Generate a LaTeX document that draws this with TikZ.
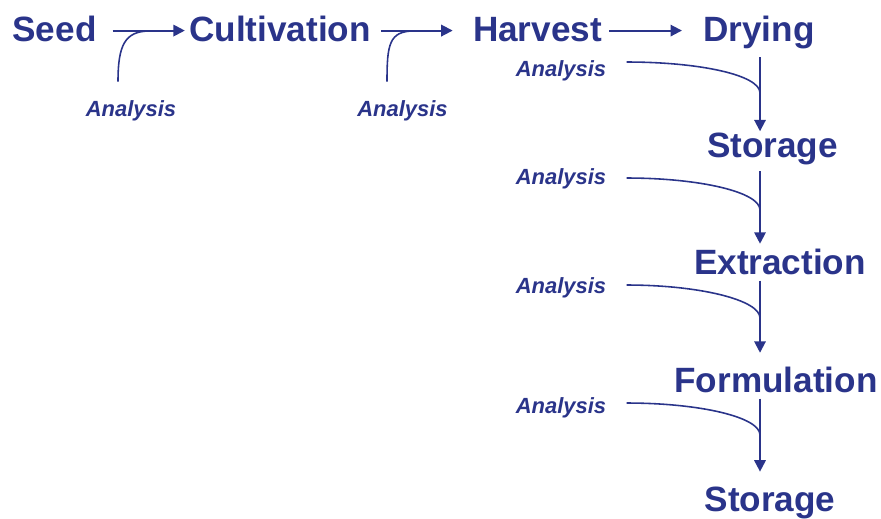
\documentclass[tikz,border=0pt]{standalone}
\usepackage{fontspec}
\setmainfont{Liberation Sans}
\usepackage{tikz}
\usepackage{xcolor}
\usetikzlibrary{positioning, arrows.meta, calc}
\definecolor{myNavy}{RGB}{42,52,138}

\begin{document}
\begin{tikzpicture}[
  x=0.02cm, y=-0.02cm,
  stage/.style={anchor=base, inner sep=0pt, text height=15pt, text depth=2pt,
                text=myNavy, font=\fontsize{20}{24}\selectfont\bfseries},
  check/.style={anchor=base, inner sep=0pt, text=myNavy,
                font=\fontsize{12.5}{15}\selectfont\bfseries\itshape},
  flow/.style={draw=myNavy, line width=1.1pt, -{Triangle[length=6.5pt, width=6.5pt]}},
  feed/.style={draw=myNavy, line width=0.9pt},
]
  \useasboundingbox (0,0) rectangle (881,519);

  % process stages
  \node[stage] (seed) at (54.5,42) {Seed};
  \node[stage] (cult) at (280,42) {Cultivation};
  \node[stage] (harv) at (537.5,42) {Harvest};
  \node[stage] (dry)  at (759,42) {Drying};
  \node[stage] (sto1) at (772.5,158) {Storage};
  \node[stage] (ext)  at (780,275) {Extraction};
  \node[stage] (form) at (776,393) {Formulation};
  \node[stage] (sto2) at (770,511) {Storage};

  % analysis steps
  \node[check] (anaA) at (131,117) {Analysis};
  \node[check] (anaB) at (402.5,117) {Analysis};
  \node[check] (ana1) at (561,77) {Analysis};
  \node[check] (ana2) at (561,185) {Analysis};
  \node[check] (ana3) at (561,294) {Analysis};
  \node[check] (ana4) at (561,414) {Analysis};

  % where the analysis lines join the main flow
  \coordinate (vline) at (760,0);
  \coordinate (k1) at (150,31);
  \coordinate (k2) at (414,31);
  \coordinate (j1) at (760,93);
  \coordinate (j2) at (760,210);
  \coordinate (j3) at (760,318);
  \coordinate (j4) at (760,435);

  % top row
  \draw[flow, shorten <=9pt, shorten >=2.3pt] (seed) -- (cult);
  \draw[flow, shorten <=5.7pt, shorten >=11.4pt] (cult) -- (harv);
  \draw[flow, shorten <=4pt, shorten >=12pt] (harv) -- (dry);

  % down the right column
  \draw[flow, shorten <=6.5pt] (dry.south -| vline) -- (sto1.north -| vline);
  \draw[flow, shorten <=5.4pt, shorten >=2.6pt] (sto1.south -| vline) -- (ext.north -| vline);
  \draw[flow, shorten <=1pt, shorten >=7.7pt] (ext.south -| vline) -- (form.north -| vline);
  \draw[flow, shorten <=1pt, shorten >=7.2pt] (form.south -| vline) -- (sto2.north -| vline);

  \draw[feed] ($(anaA.north)+(-13,-19)$) .. controls +(0,-37) and +(-25,0) .. (k1);
  \draw[feed] ($(anaB.north)+(-15.5,-19)$) .. controls +(0,-37) and +(-25,0) .. (k2);
  \draw[feed] ($(ana1.east)+(20,-9.3)$) .. controls +(73,0) and +(0,-18) .. (j1);
  \draw[feed] ($(ana2.east)+(20,-1.3)$) .. controls +(73,0) and +(0,-18) .. (j2);
  \draw[feed] ($(ana3.east)+(20,-3.3)$) .. controls +(73,0) and +(0,-18) .. (j3);
  \draw[feed] ($(ana4.east)+(20,-5.3)$) .. controls +(73,0) and +(0,-18) .. (j4);
\end{tikzpicture}
\end{document}
